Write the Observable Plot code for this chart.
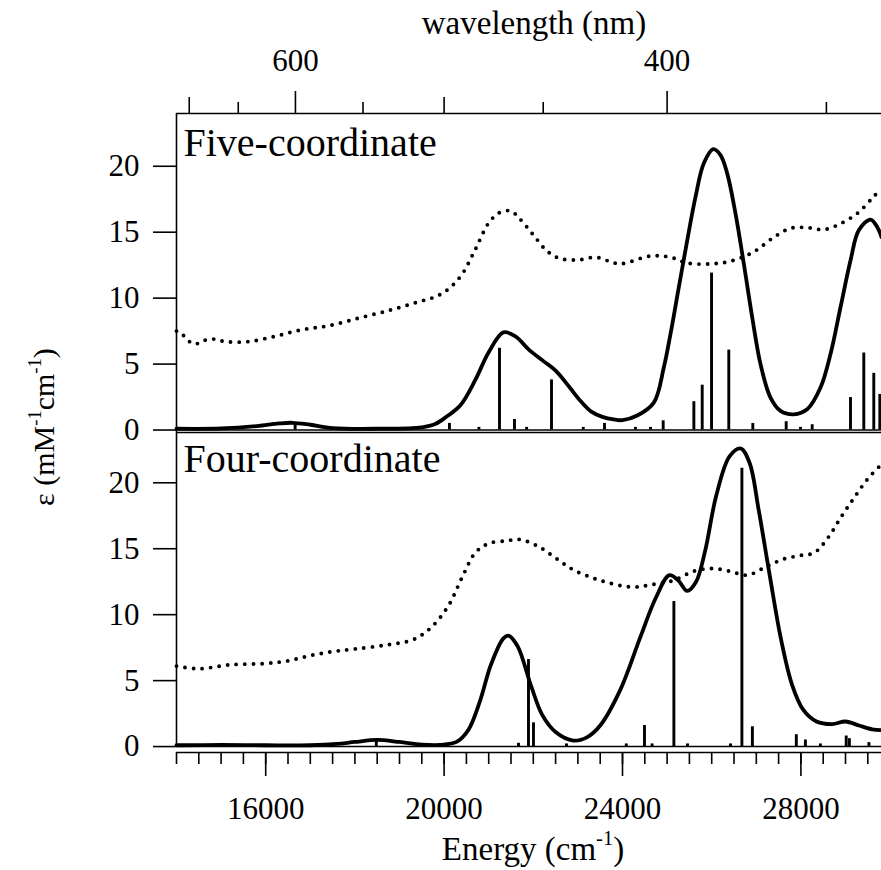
<!DOCTYPE html>
<html><head><meta charset="utf-8">
<script src="https://cdn.jsdelivr.net/npm/d3@7"></script>
<script src="https://cdn.jsdelivr.net/npm/@observablehq/plot@0.6"></script>
<style>
html,body{margin:0;padding:0;background:#fff;overflow:hidden;}
</style></head><body>
<div id="chart"></div>
<script>
// ---- axis ticks ----
const energyMajorTicks = [16000, 20000, 24000, 28000];
const energyMinorTicks = d3.range(14000, 29600, 500);
const nmMajorTicks = [600, 400];
const nmMidTicks = [700, 500];
const nmMinorTicks = [650, 550, 450, 350];
const epsTicks = [0, 5, 10, 15, 20];
const panelNames = ["Five-coordinate", "Four-coordinate"];
const panelOffset = 24;     // top panel stacked above the bottom one
const xDomain = [14000, 29807];

// ---- Five-coordinate: experimental (solid) ----
const fiveE   = [14000,15000,15800,16300,16600,17000,17500,18500,19500,19800,20050,20370,20700,21000,21330,21600,21900,22200,22500,22800,23060,23300,23550,23800,24000,24330,24702,24926,25076,25263,25451,25637,25823,26033,26197,26347,26534,26720,26908,27094,27318,27543,27841,28141,28440,28664,28888,29112,29298,29561,29710,29807];
const fiveEps = [0.1,0.12,0.3,0.5,0.55,0.4,0.15,0.1,0.2,0.45,1.0,1.9,3.8,5.9,7.4,7.1,6.1,5.3,4.5,3.3,2.2,1.4,1.0,0.8,0.75,1.1,2.08,4.74,7.28,10.83,14.38,17.68,20.22,21.29,20.85,19.46,16.41,12.61,8.55,5.0,2.46,1.45,1.19,1.57,3.22,5.76,9.31,12.86,15.14,15.96,15.4,14.63];
// ---- Five-coordinate: dotted ----
const fiveDotE   = [14000,14090,14253,14426,14538,14800,15100,15600,16200,16800,17400,18100,18800,19400,19800,20100,20400,20700,21000,21250,21500,21700,22000,22300,22600,23000,23400,23700,23955,24628,25076,25451,25973,26422,26937,27386,27767,28140,28513,28888,29290,29630,29807];
const fiveDotEps = [7.5,7.4,6.8,6.5,6.7,6.9,6.7,6.7,7.1,7.6,7.9,8.5,9.1,9.7,10.1,10.7,11.8,13.7,15.7,16.5,16.6,16.0,14.8,13.6,13.0,12.9,13.1,12.8,12.6,13.2,13.1,12.66,12.6,12.8,13.5,14.6,15.3,15.35,15.2,15.65,16.5,17.7,18.3];
// ---- Five-coordinate: sticks ----
const fiveStickE = [16660,20120,20780,21242,21578,21850,22408,23120,23596,24291,24628,24912,25600,25787,25996,26383,26922,27670,27991,28253,29112,29410,29634,29769];
const fiveStickH = [0.4,0.5,0.2,6.2,0.8,0.2,3.8,0.2,0.5,0.2,0.2,0.7,2.15,3.4,11.9,6.06,0.5,0.63,0.2,0.4,2.46,5.84,4.3,2.7];

// ---- Four-coordinate: solid ----
const fourE   = [14000,15000,16000,17000,17600,18000,18500,19000,19500,20000,20300,20550,20800,21050,21330,21450,21650,21950,22200,22500,22900,23200,23500,23950,24400,24750,25050,25250,25450,25650,25850,26100,26400,26650,26850,27050,27300,27550,27800,28050,28350,28700,29000,29300,29600,29807];
const fourEps = [0.1,0.12,0.1,0.1,0.2,0.35,0.5,0.35,0.15,0.15,0.4,1.3,3.4,6.2,8.2,8.4,7.6,4.6,2.4,1.1,0.45,0.7,1.6,4.3,8.3,11.3,13.0,12.6,11.8,12.5,14.8,19.0,22.0,22.6,21.5,18.0,13.0,8.2,4.7,2.8,1.9,1.7,1.9,1.6,1.3,1.25];
// ---- Four-coordinate: dotted ----
const fourDotE   = [14000,14500,15200,16000,16500,17000,17500,18000,18700,19300,19700,20100,20400,20700,21000,21400,21700,22100,22500,22900,23500,24200,24700,25150,25600,26000,26400,26800,27200,27600,28000,28300,28600,28900,29200,29500,29807];
const fourDotEps = [6.1,5.9,6.2,6.3,6.5,6.9,7.2,7.4,7.7,8.1,9.0,10.7,12.8,14.7,15.4,15.6,15.7,15.2,14.3,13.4,12.6,12.1,12.3,12.6,13.3,13.5,13.3,13.0,13.6,14.2,14.5,14.7,15.8,17.4,18.9,20.3,21.4];
// ---- Four-coordinate: sticks ----
const fourStickE = [18480,21668,21892,22004,22744,24085,24493,24664,25152,25458,26422,26677,26912,27897,28101,28437,29016,29087,29525];
const fourStickH = [0.4,0.25,6.6,1.8,0.2,0.2,1.6,0.2,11.0,0.2,0.2,21.1,1.5,0.9,0.5,0.2,0.8,0.6,0.3];

// ---- build tables ----
const zip = (xs, ys, off) => xs.map((x, i) => ({E: x, v: ys[i] + off}));
const fiveSolid = zip(fiveE, fiveEps, panelOffset);
const fiveDot = zip(fiveDotE, fiveDotEps, panelOffset);
const fiveSticks = fiveStickE.map((e, i) => ({E: e, y1: panelOffset, y2: panelOffset + fiveStickH[i]}));
const fourSolid = zip(fourE, fourEps, 0);
const fourDot = zip(fourDotE, fourDotEps, 0);
const fourSticks = fourStickE.map((e, i) => ({E: e, y1: 0, y2: fourStickH[i]}));
const yAllTicks = [...epsTicks, ...epsTicks.map(t => t + panelOffset)];
const labels = [{name: panelNames[0], y: 2 * panelOffset}, {name: panelNames[1], y: panelOffset}];

const font = "'Liberation Serif', 'Times New Roman', serif";
const solidW = 3.8, dotStyle = {strokeWidth: 3.9, strokeDasharray: "0 8.6", strokeLinecap: "round"};

const plot = Plot.plot({
  width: 881, height: 870,
  marginLeft: 176, marginRight: 0, marginTop: 113, marginBottom: 118,
  x: {domain: xDomain},
  y: {domain: [-0.45, 2 * panelOffset]},
  style: {fontFamily: font, fontSize: "30px", color: "black", background: "white"},
  marks: [
    // panel frames
    Plot.ruleY([0, panelOffset, 2 * panelOffset], {x1: xDomain[0], x2: 31000, stroke: "black", strokeWidth: 1.6}),
    Plot.ruleY([panelOffset], {x1: xDomain[0], x2: 31000, stroke: "black", strokeWidth: 1.4, dy: 2.5}),
    Plot.ruleX([xDomain[0]], {y1: 0, y2: 2 * panelOffset, stroke: "black", strokeWidth: 1.6}),
    Plot.ruleY([-0.45], {x1: xDomain[0], x2: 31000, stroke: "black", strokeWidth: 1.6}),
    // sticks
    Plot.ruleX(fiveSticks, {x: "E", y1: "y1", y2: "y2", stroke: "black", strokeWidth: 2.9}),
    Plot.ruleX(fourSticks, {x: "E", y1: "y1", y2: "y2", stroke: "black", strokeWidth: 2.9}),
    // curves
    Plot.line(fiveDot, {x: "E", y: "v", curve: "catmull-rom", stroke: "black", ...dotStyle}),
    Plot.line(fourDot, {x: "E", y: "v", curve: "catmull-rom", stroke: "black", ...dotStyle}),
    Plot.line(fiveSolid, {x: "E", y: "v", curve: "catmull-rom", stroke: "black", strokeWidth: solidW}),
    Plot.line(fourSolid, {x: "E", y: "v", curve: "catmull-rom", stroke: "black", strokeWidth: solidW}),
    // panel labels
    Plot.text(labels, {x: () => xDomain[0], y: "y", text: "name", textAnchor: "start", lineAnchor: "top", dx: 7, dy: 14, fontSize: 40, fontFamily: font, fill: "black"}),
    // axes
    Plot.axisY({ticks: yAllTicks, tickSize: 23, tickPadding: 14, strokeWidth: 1.6, tickFormat: d => d >= panelOffset ? d - panelOffset : d, label: null, fontSize: 31}),
    Plot.axisX({anchor: "bottom", ticks: energyMajorTicks, tickSize: 24, tickPadding: 20, strokeWidth: 1.6, tickFormat: d => String(d), label: null, fontSize: 31}),
    Plot.axisX({anchor: "bottom", ticks: energyMinorTicks, tickSize: 12, strokeWidth: 1.6, tickFormat: () => "", label: null}),
    Plot.axisX({anchor: "top", ticks: nmMajorTicks.map(n => 1e7 / n), tickSize: 23, tickPadding: 20, strokeWidth: 1.6, tickFormat: e => String(Math.round(1e7 / e)), label: null, fontSize: 31}),
    Plot.axisX({anchor: "top", ticks: nmMidTicks.map(n => 1e7 / n), tickSize: 17, strokeWidth: 1.6, tickFormat: () => "", label: null}),
    Plot.axisX({anchor: "top", ticks: nmMinorTicks.map(n => 1e7 / n), tickSize: 12, strokeWidth: 1.6, tickFormat: () => "", label: null})
  ]
});

document.getElementById("chart").appendChild(plot);

// axis titles with superscripts
const svg = d3.select(plot);
function title(x, y, parts, size, rotate) {
  const t = svg.append("text")
    .attr("text-anchor", "middle")
    .attr("font-family", font)
    .attr("font-size", size)
    .attr("fill", "black")
    .attr("transform", `translate(${x},${y})` + (rotate ? " rotate(-90)" : ""));
  parts.forEach(([s, sup]) => {
    const ts = t.append("tspan").text(s);
    if (sup) ts.attr("dy", -size * 0.45).attr("font-size", size * 0.62);
    else if (t.node().childNodes.length > 1) ts.attr("dy", size * 0.45);
  });
  return t;
}
title(534, 34, [["wavelength (nm)", false]], 33, false);
title(533, 860, [["Energy (cm", false], ["-1", true], [")", false]], 33, false);
title(54, 427, [["ε (mM", false], ["-1", true], ["cm", false], ["-1", true], [")", false]], 30, true);
</script>
</body></html>
